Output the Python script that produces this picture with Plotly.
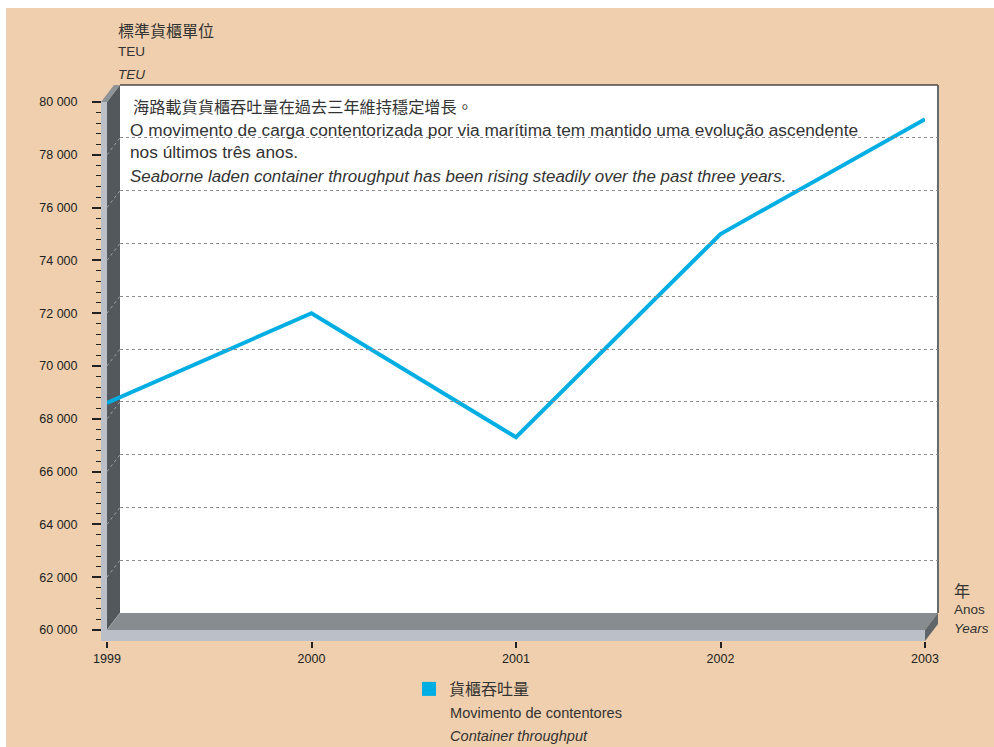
import plotly.graph_objects as go

# ---- data -------------------------------------------------------------
years = [1999, 2000, 2001, 2002, 2003]
throughput_teu = [68600, 72000, 67300, 75000, 79350]
y_ticks = [60000, 62000, 64000, 66000, 68000, 70000, 72000, 74000, 76000, 78000, 80000]
series_name = "貨櫃吞吐量"
series_name_pt = "Movimento de contentores"
series_name_en = "Container throughput"

# ---- page geometry (pixels) -------------------------------------------
W, H = 994, 747
FRONT_L, FRONT_R = 107, 925      # x of first / last year on the front plane
FRONT_T, FRONT_B = 102, 630      # y of axis max / min on the front plane
DEPTH_X, DEPTH_Y = 13, 17        # offset of the back wall
EDGE = 6                         # thickness of the light outer rim
Y_MIN, Y_MAX = 60000, 80000

BG = "#EFCFAD"
LINE_BLUE = "#00AEE4"
TEXT = "#333333"
LATIN = "Liberation Sans, Arial, sans-serif"
CJK = "Noto Sans CJK TC, Noto Sans CJK SC, sans-serif"


def px(x):
    return x / W


def py(y):
    return 1 - y / H


def path(points):
    return "M " + " L ".join(f"{px(x)},{py(y)}" for x, y in points) + " Z"


def front_y(v):
    return FRONT_B - (v - Y_MIN) / (Y_MAX - Y_MIN) * (FRONT_B - FRONT_T)


BACK_L, BACK_R = FRONT_L + DEPTH_X, FRONT_R + DEPTH_X
BACK_T, BACK_B = FRONT_T - DEPTH_Y, FRONT_B - DEPTH_Y

fig = go.Figure()

# main series on the front plane
fig.add_trace(go.Scatter(
    x=years, y=throughput_teu, mode="lines",
    line=dict(color=LINE_BLUE, width=4),
    showlegend=False, hoverinfo="x+y", cliponaxis=False,
))
# legend swatch
fig.add_trace(go.Scatter(
    x=[None], y=[None], mode="markers", name=series_name,
    marker=dict(symbol="square", size=14, color=LINE_BLUE),
    showlegend=True,
))
# empty trace so the back-wall axes are drawn
fig.add_trace(go.Scatter(x=[], y=[], xaxis="x2", yaxis="y2",
                         showlegend=False, hoverinfo="skip"))

shapes = []
# white page border at top / left
shapes.append(dict(type="rect", xref="paper", yref="paper", layer="below",
                   x0=0, x1=1, y0=py(0), y1=py(8), fillcolor="white", line_width=0))
shapes.append(dict(type="rect", xref="paper", yref="paper", layer="below",
                   x0=0, x1=px(6), y0=0, y1=1, fillcolor="white", line_width=0))
# back wall
shapes.append(dict(type="rect", xref="paper", yref="paper", layer="below",
                   x0=px(BACK_L), x1=px(BACK_R), y0=py(BACK_B), y1=py(BACK_T),
                   fillcolor="white", line_width=0))
shapes.append(dict(type="line", xref="paper", yref="paper", layer="below",
                   x0=px(BACK_L), x1=px(BACK_R), y0=py(BACK_T), y1=py(BACK_T),
                   line=dict(color="#4a4a4a", width=1.5)))
shapes.append(dict(type="line", xref="paper", yref="paper", layer="below",
                   x0=px(BACK_R), x1=px(BACK_R), y0=py(BACK_T), y1=py(BACK_B),
                   line=dict(color="#6a6a6a", width=2)))
# left side wall
shapes.append(dict(type="path", xref="paper", yref="paper", layer="below",
                   path=path([(FRONT_L, FRONT_T), (BACK_L, BACK_T),
                              (BACK_L, BACK_B), (FRONT_L, FRONT_B)]),
                   fillcolor="#52585C", line_width=0))
# top bevel of the side wall
shapes.append(dict(type="path", xref="paper", yref="paper", layer="below",
                   path=path([(FRONT_L - EDGE, FRONT_T), (FRONT_L, FRONT_T),
                              (BACK_L, BACK_T), (BACK_L - EDGE, BACK_T)]),
                   fillcolor="#8E9398", line_width=0))
# floor
shapes.append(dict(type="path", xref="paper", yref="paper", layer="below",
                   path=path([(FRONT_L, FRONT_B), (BACK_L, BACK_B),
                              (BACK_R, BACK_B), (FRONT_R, FRONT_B)]),
                   fillcolor="#878C91", line_width=0))
# right face of the floor slab
shapes.append(dict(type="path", xref="paper", yref="paper", layer="below",
                   path=path([(FRONT_R, FRONT_B), (BACK_R, BACK_B),
                              (BACK_R, BACK_B + 11), (FRONT_R, FRONT_B + 11)]),
                   fillcolor="#5F6569", line_width=0))
# light outer rims (wall edge and floor edge)
shapes.append(dict(type="rect", xref="paper", yref="paper", layer="below",
                   x0=px(FRONT_L - EDGE), x1=px(FRONT_L), y0=py(FRONT_B + 11), y1=py(FRONT_T),
                   fillcolor="#BBC0C8", line_width=0))
shapes.append(dict(type="rect", xref="paper", yref="paper", layer="below",
                   x0=px(FRONT_L - EDGE), x1=px(FRONT_R), y0=py(FRONT_B + 11), y1=py(FRONT_B),
                   fillcolor="#BBC0C8", line_width=0))
# wall-floor seam
shapes.append(dict(type="line", xref="paper", yref="paper", layer="below",
                   x0=px(FRONT_L), y0=py(FRONT_B), x1=px(BACK_L), y1=py(BACK_B),
                   line=dict(color="#9CA1A6", width=1)))
# gridlines continuing across the side wall
for v in y_ticks[1:-1]:
    yf = front_y(v)
    shapes.append(dict(type="line", xref="paper", yref="paper", layer="below",
                       x0=px(FRONT_L), y0=py(yf), x1=px(BACK_L), y1=py(yf - DEPTH_Y),
                       line=dict(color="#9CA1A6", width=1, dash="dot")))

annotations = []


def note(text, x, y, size, family=LATIN, color=TEXT):
    annotations.append(dict(text=text, x=px(x), y=py(y), xref="paper", yref="paper",
                            xanchor="left", yanchor="middle", showarrow=False,
                            font=dict(size=size, family=family, color=color)))


# axis titles
note("標準貨櫃單位", 116, 30, 16, CJK)
note("TEU", 116, 52, 13.5)
note("<i>TEU</i>", 116, 74, 13.5)
note("年", 952, 590, 16, CJK)
note("Anos", 952, 609, 13.5)
note("<i>Years</i>", 952, 628, 13.5)
# caption inside the chart
note("海路載貨貨櫃吞吐量在過去三年維持穩定增長。", 131, 106, 16.2, CJK)
note("O movimento de carga contentorizada por via marítima tem mantido uma evolução ascendente",
     128, 130, 17.3)
note("nos últimos três anos.", 128, 152, 17.3)
note("<i>Seaborne laden container throughput has been rising steadily over the past three years.</i>",
     128, 176, 16.9)
# legend sub-lines
note(series_name_pt, 448, 713, 14.6)
note(f"<i>{series_name_en}</i>", 448, 736, 14.6)

fig.update_layout(
    width=W, height=H, autosize=False,
    margin=dict(l=0, r=0, t=0, b=0, pad=0, autoexpand=False),
    paper_bgcolor=BG, plot_bgcolor="rgba(0,0,0,0)",
    separators=", ",
    font=dict(family=LATIN, color=TEXT, size=12),
    shapes=shapes, annotations=annotations,
    showlegend=True,
    legend=dict(x=px(409), y=py(672), xanchor="left", yanchor="top",
                bgcolor="rgba(0,0,0,0)",
                font=dict(family=CJK, size=16, color=TEXT)),
    xaxis=dict(domain=[px(FRONT_L), px(FRONT_R)], range=[years[0], years[-1]],
               tickvals=years, ticktext=[str(y) for y in years],
               anchor="free", position=py(FRONT_B + 11), automargin=False,
               ticks="outside", ticklen=6, tickwidth=1.5, tickcolor="#222",
               showgrid=False, zeroline=False, showline=False,
               tickfont=dict(size=12.5, color="#222")),
    yaxis=dict(domain=[py(FRONT_B), py(FRONT_T)], range=[Y_MIN, Y_MAX],
               tickvals=y_ticks, tickformat=",d",
               anchor="free", position=px(FRONT_L - EDGE), automargin=False,
               ticks="outside", ticklen=9, tickwidth=1.5, tickcolor="#222",
               minor=dict(dtick=400, ticks="outside", ticklen=5, tickwidth=1.2,
                          tickcolor="#222", showgrid=False),
               ticklabelstandoff=12,
               showgrid=False, zeroline=False, showline=False,
               tickfont=dict(size=12.5, color="#222")),
    xaxis2=dict(domain=[px(BACK_L), px(BACK_R)], range=[years[0], years[-1]],
                anchor="y2", visible=False, showgrid=False),
    yaxis2=dict(domain=[py(BACK_B), py(BACK_T)], range=[Y_MIN, Y_MAX],
                anchor="x2", tickvals=y_ticks[1:-1], showticklabels=False, ticks="",
                showgrid=True, gridcolor="#8C8C8C", gridwidth=1, griddash="dot",
                zeroline=False, showline=False),
)

fig.write_html("out.html")
